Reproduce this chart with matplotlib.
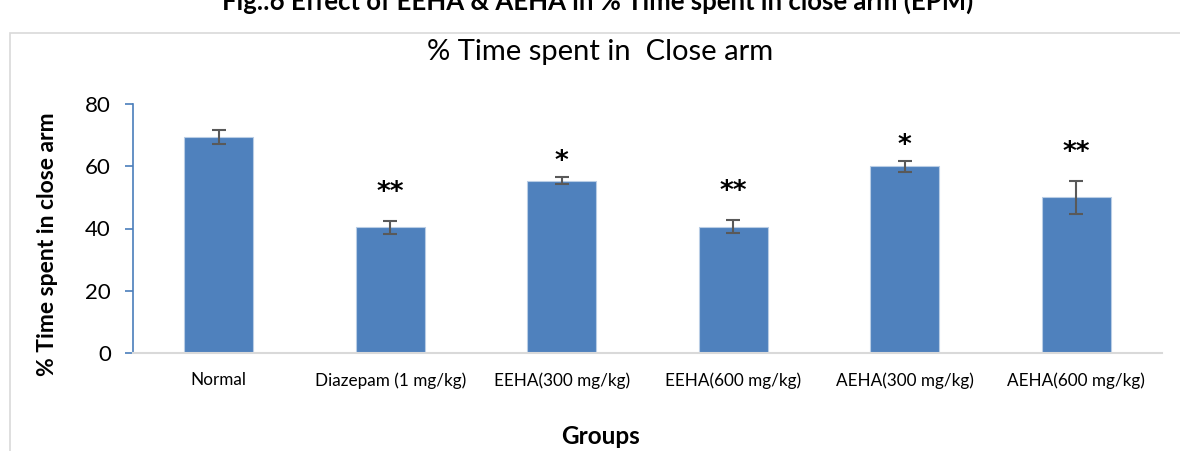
import matplotlib
matplotlib.use("Agg")
import matplotlib.pyplot as plt
from matplotlib.patches import Rectangle

plt.rcParams['font.family'] = ['Lato', 'DejaVu Sans']

groups = ["Normal", "Diazepam (1 mg/kg)", "EEHA(300 mg/kg)", "EEHA(600 mg/kg)",
          "AEHA(300 mg/kg)", "AEHA(600 mg/kg)"]
means = [69.4, 40.4, 55.3, 40.6, 60.0, 50.0]
errors = [2.4, 2.1, 1.1, 2.2, 1.8, 5.3]
signif = ["", "**", "*", "**", "*", "**"]
yticks = [0, 20, 40, 60, 80]

W, H = 1180, 451
fig = plt.figure(figsize=(W / 100, H / 100), dpi=100)
ax = fig.add_axes([133 / W, 1 - 353 / H, (1162 - 133) / W, (353 - 104) / H])

x = list(range(len(groups)))
ax.bar(x, means, width=0.4, color="#4f81bd", edgecolor="#b9cde5", linewidth=0.8,
       yerr=errors, error_kw=dict(ecolor="#595959", elinewidth=1.5, capsize=5, capthick=1.5),
       zorder=2)

for xi, m, e, s in zip(x, means, errors, signif):
    if s:
        off = 28 if len(s) == 2 else 15
        ax.annotate(s, (xi, m + e), xytext=(0, off), textcoords="offset pixels",
                    ha="center", va="center", fontsize=19, color="black",
                    family="DejaVu Sans", fontweight="bold")

ax.set_xlim(-0.5, len(groups) - 0.5)
ax.set_ylim(0, 80)
ax.set_yticks(yticks)
ax.set_xticks(x)
ax.set_xticklabels(groups, fontsize=12.3)
ax.tick_params(axis="x", length=0, pad=14)
ax.tick_params(axis="y", direction="out", length=6, color="#4a7ebb", width=1.2,
               labelsize=16, pad=10)
for s in ["top", "right"]:
    ax.spines[s].set_visible(False)
ax.spines["left"].set_color("#4a7ebb")
ax.spines["left"].set_linewidth(1.2)
ax.spines["bottom"].set_color("#d9d9d9")
ax.spines["bottom"].set_linewidth(1.5)

ax.set_ylabel("% Time spent in close arm", fontsize=16.5, fontweight="bold")
ax.yaxis.set_label_coords(-75 / (1162 - 133), 0.435)

fig.text(600 / W, 1 - 437 / H, "Groups", fontsize=17.5, fontweight="bold",
         ha="center", va="center")
fig.text(600 / W, 1 - 52 / H, "% Time spent in  Close arm", fontsize=21,
         ha="center", va="center")
fig.text(598 / W, 1 - 1 / H, "Fig.:6 Effect of EEHA & AEHA in % Time spent in close arm (EPM)",
         fontsize=18.5, fontweight="bold", ha="center", va="center")

fig.patches.append(Rectangle((10 / W, -0.05), 1.1, 1 - 33 / H + 0.05,
                             transform=fig.transFigure, fill=False,
                             edgecolor="#d9d9d9", linewidth=1.2))

fig.savefig("out.png", dpi=100)
